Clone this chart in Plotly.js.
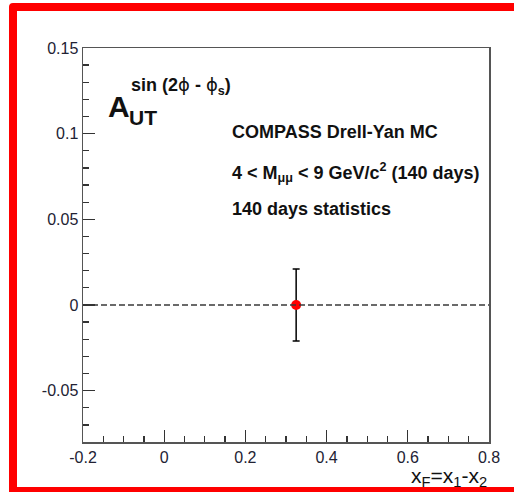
<!DOCTYPE html>
<html>
<head>
<meta charset="utf-8">
<script src="https://cdn.plot.ly/plotly-3.0.1.min.js"></script>
<style>
  html, body { margin: 0; padding: 0; background: #fff; }
  #chart { width: 514px; height: 492px; }
</style>
</head>
<body>
<div id="chart"></div>
<script>
// Asymmetry measurement: one x_F bin
const xF = [0.325];
const asym = [0];
const asymErr = [0.021];

// Reference line at zero asymmetry
const refLineX = [-0.2, 0.8];
const refLineY = [0, 0];

// Tick labels
const xTickVals = [-0.2, 0, 0.2, 0.4, 0.6, 0.8];
const xTickText = ['-0.2', '0', '0.2', '0.4', '0.6', '0.8'];
const yTickVals = [-0.05, 0, 0.05, 0.1, 0.15];
const yTickText = ['-0.05', '0', '0.05', '0.1', '0.15'];

// Text
const PHI = '</b><span style="font-family:\'DejaVu Sans\'">ϕ</span><b>';
const modulation = '<b>sin (2' + PHI + ' - ' + PHI + '<sub>s</sub>)</b>';
const infoLines = [
  'COMPASS Drell-Yan MC',
  '4 &lt; M<sub>μμ</sub> &lt; 9 GeV/c<sup>2</sup> (140 days)',
  '140 days statistics'
];
const xTitle = 'x<sub>F</sub>=x<sub>1</sub>-x<sub>2</sub>';

// Frame geometry in pixels
const M = { l: 83, r: 25, t: 48, b: 50 };
const FW = 514, FH = 492;
const PW = FW - M.l - M.r, PH = FH - M.t - M.b;
const px = v => (v - M.l) / PW;
const py = v => (M.t + PH - v) / PH;

const FONT = '"Liberation Sans", Arial, Helvetica, sans-serif';
const AXIS = '#555';

const traces = [
  {
    x: xF, y: asym, type: 'scatter', mode: 'markers',
    marker: { color: '#ff0000', size: 10, line: { width: 0 } },
    error_y: { type: 'data', array: asymErr, visible: true, color: '#000', thickness: 1.5, width: 3.5 },
    hoverinfo: 'skip', showlegend: false
  },
  {
    x: refLineX, y: refLineY, type: 'scatter', mode: 'lines',
    line: { color: '#3a3a3a', width: 1.5, dash: '6px,3px' },
    hoverinfo: 'skip', showlegend: false
  }
];

function ann(text, x, y, size, opts) {
  return Object.assign({
    text: text, xref: 'paper', yref: 'paper', x: px(x), y: py(y),
    xanchor: 'left', yanchor: 'middle', showarrow: false, borderpad: 0,
    font: { family: FONT, size: size, color: '#111' }
  }, opts || {});
}

const annotations = [
  ann('<b>A</b>', 107, 106, 30),
  ann('<b>UT</b>', 128, 117, 21),
  ann(modulation, 130, 86, 18),
  ann('<b>' + infoLines[0] + '</b>', 231, 132, 18),
  ann('<b>' + infoLines[1] + '</b>', 231, 172, 18),
  ann('<b>' + infoLines[2] + '</b>', 231, 209, 18),
  ann(xTitle, 488, 477, 21, { xanchor: 'right' })
];

const axisCommon = {
  showline: true, linecolor: AXIS, linewidth: 1.5, mirror: true,
  showgrid: false, zeroline: false,
  ticks: 'inside', ticklen: 12, tickwidth: 1.3, tickcolor: '#333',
  tickmode: 'array',
  tickfont: { family: FONT, size: 16, color: '#223' }
};

const layout = {
  width: FW, height: FH, autosize: false,
  margin: M,
  paper_bgcolor: '#fff', plot_bgcolor: '#fff',
  xaxis: Object.assign({}, axisCommon, {
    range: [-0.2, 0.8], tickvals: xTickVals, ticktext: xTickText,
    minor: { tickmode: 'linear', tick0: 0, dtick: 0.05, ticks: 'inside', ticklen: 6, tickwidth: 1.3, tickcolor: '#333' }
  }),
  yaxis: Object.assign({}, axisCommon, {
    range: [-0.08, 0.15], tickvals: yTickVals, ticktext: yTickText,
    minor: { tickmode: 'linear', tick0: 0, dtick: 0.01, ticks: 'inside', ticklen: 6, tickwidth: 1.3, tickcolor: '#333' }
  }),
  annotations: annotations,
  shapes: [{
    type: 'rect', xref: 'paper', yref: 'paper', layer: 'above',
    x0: px(13), x1: px(540), y0: py(491), y1: py(7),
    line: { color: '#ff0000', width: 8 }, fillcolor: 'rgba(0,0,0,0)'
  }]
};

Plotly.newPlot('chart', traces, layout, { staticPlot: true, displayModeBar: false }).then(gd => {
  gd.querySelectorAll('.shapelayer path').forEach(p => p.style.strokeLinejoin = 'round');
});
</script>
</body>
</html>
